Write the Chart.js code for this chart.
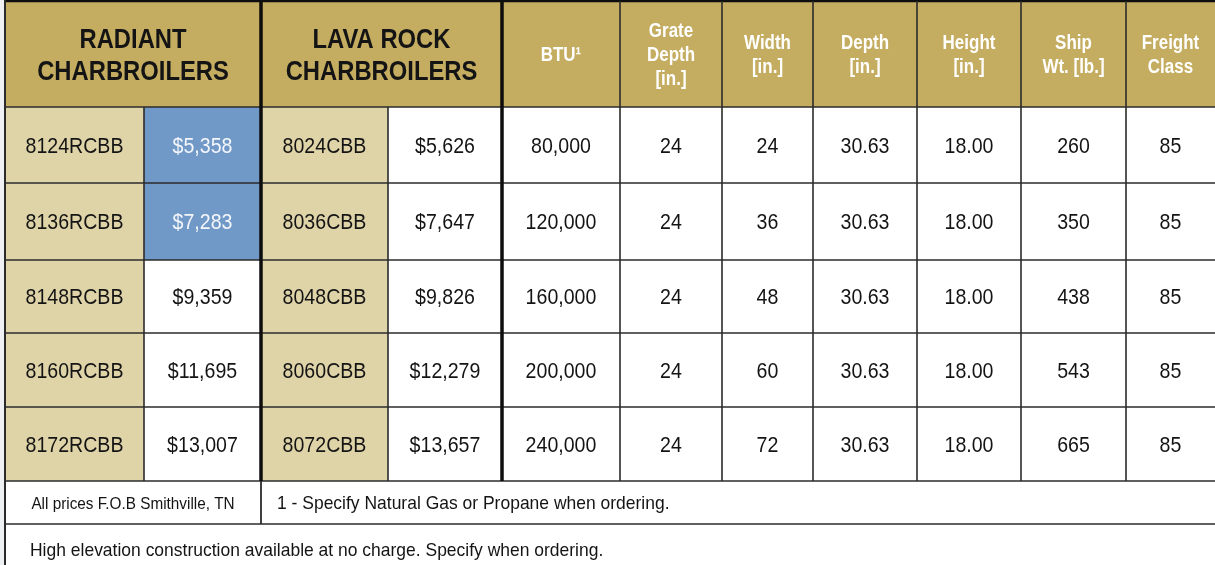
<!DOCTYPE html>
<html>
<head>
<meta charset="utf-8">
<script src="https://cdn.jsdelivr.net/npm/chart.js@4.4.1/dist/chart.umd.min.js"></script>
<style>
html, body { margin: 0; padding: 0; background: #fff; }
#wrap { width: 1215px; height: 565px; }
</style>
</head>
<body>
<div id="wrap"><canvas id="tableChart" width="1215" height="565"></canvas></div>
<script>
/**
 * 1. DATA
 */
const radiantModels = ['8124RCBB', '8136RCBB', '8148RCBB', '8160RCBB', '8172RCBB'];
const radiantPrices = [5358, 7283, 9359, 11695, 13007];
const lavaModels = ['8024CBB', '8036CBB', '8048CBB', '8060CBB', '8072CBB'];
const lavaPrices = [5626, 7647, 9826, 12279, 13657];
const btu = [80000, 120000, 160000, 200000, 240000];
const grateDepth = [24, 24, 24, 24, 24];
const widthIn = [24, 36, 48, 60, 72];
const depthIn = [30.63, 30.63, 30.63, 30.63, 30.63];
const heightIn = [18.00, 18.00, 18.00, 18.00, 18.00];
const shipWeight = [260, 350, 438, 543, 665];
const freightClass = [85, 85, 85, 85, 85];

const groupHeaders = [['RADIANT', 'CHARBROILERS'], ['LAVA ROCK', 'CHARBROILERS']];
const specHeaders = [
    ['BTU\u00B9'],
    ['Grate', 'Depth', '[in.]'],
    ['Width', '[in.]'],
    ['Depth', '[in.]'],
    ['Height', '[in.]'],
    ['Ship', 'Wt. [lb.]'],
    ['Freight', 'Class']
];
const footNoteLeft = 'All prices F.O.B Smithville, TN';
const footNoteRight = '1 - Specify Natural Gas or Propane when ordering.';
const footNoteBottom = 'High elevation construction available at no charge. Specify when ordering.';

// rows where the radiant price cell is highlighted
const highlightRows = [0, 1];

/**
 * 2. LAYOUT & STYLE (design units, mapped by the chart scales)
 */
const colEdges = [5, 144, 261, 388, 502, 620, 722, 813, 917, 1021, 1126, 1215];
// last row runs past the bottom of the frame
const rowEdges = [1, 107, 183, 260, 333, 407, 481, 524, 574];

const COLORS = {
    gold: '#c4ad60',
    tan: '#dfd3a8',
    blue: '#7099c8',
    white: '#ffffff',
    line: '#2b2b2b',
    thick: '#0d0d0d',
    text: '#141414'
};
const FONT = "'Liberation Sans', Arial, sans-serif";

// text styles: size, line height, bold, horizontal squeeze (narrow face look)
const STYLE = {
    group: { size: 28, lh: 32, bold: true, sx: 0.85 },
    spec: { size: 19.5, lh: 24, bold: true, sx: 0.87 },
    body: { size: 22, lh: 22, bold: false, sx: 0.89 },
    noteSmall: { size: 17, lh: 17, bold: false, sx: 0.9 },
    note: { size: 19, lh: 19, bold: false, sx: 0.92 }
};

const money = v => '$' + v.toLocaleString('en-US');

const bodyRows = radiantModels.map((m, i) => [
    m,
    money(radiantPrices[i]),
    lavaModels[i],
    money(lavaPrices[i]),
    btu[i].toLocaleString('en-US'),
    String(grateDepth[i]),
    String(widthIn[i]),
    depthIn[i].toFixed(2),
    heightIn[i].toFixed(2),
    String(shipWeight[i]),
    String(freightClass[i])
]);

/**
 * 3. TABLE PLUGIN
 */
const tablePlugin = {
    id: 'priceTable',
    beforeDatasetsDraw(chart) {
        const { ctx, scales: { x, y } } = chart;
        const X = v => x.getPixelForValue(v);
        const Y = v => y.getPixelForValue(v);
        const nCols = colEdges.length - 1;

        const fillCell = (c0, c1, r0, r1, color) => {
            ctx.fillStyle = color;
            ctx.fillRect(X(colEdges[c0]), Y(rowEdges[r0]), X(colEdges[c1]) - X(colEdges[c0]), Y(rowEdges[r1]) - Y(rowEdges[r0]));
        };
        const hLine = (yv, x0, x1, w, color) => {
            ctx.strokeStyle = color; ctx.lineWidth = w;
            ctx.beginPath(); ctx.moveTo(X(x0), Y(yv)); ctx.lineTo(X(x1), Y(yv)); ctx.stroke();
        };
        const vLine = (xv, y0, y1, w, color) => {
            ctx.strokeStyle = color; ctx.lineWidth = w;
            ctx.beginPath(); ctx.moveTo(X(xv), Y(y0)); ctx.lineTo(X(xv), Y(y1)); ctx.stroke();
        };
        // lines of text, caps centred on cy
        const lines = (arr, px, cy, st, color, align) => {
            ctx.font = (st.bold ? 'bold ' : '') + st.size + 'px ' + FONT;
            ctx.fillStyle = color;
            ctx.textAlign = align || 'center';
            ctx.textBaseline = 'alphabetic';
            const top = cy - (arr.length - 1) * st.lh / 2 + st.size * 0.716 / 2;
            arr.forEach((t, k) => {
                ctx.save();
                ctx.translate(px, top + k * st.lh);
                ctx.scale(st.sx, 1);
                ctx.fillText(t, 0, 0);
                ctx.restore();
            });
        };

        ctx.save();
        // left margin strip
        ctx.fillStyle = '#eef0f3';
        ctx.fillRect(X(0), Y(0), X(colEdges[0]) - X(0), Y(565) - Y(0));

        // header fill
        fillCell(0, nCols, 0, 1, COLORS.gold);

        // body fills
        bodyRows.forEach((row, i) => {
            for (let c = 0; c < nCols; c++) {
                let col = COLORS.white;
                if (c === 0 || c === 2) col = COLORS.tan;
                if (c === 1 && highlightRows.includes(i)) col = COLORS.blue;
                fillCell(c, c + 1, i + 1, i + 2, col);
            }
        });
        // footer fills
        fillCell(0, nCols, 6, 8, COLORS.white);

        // horizontal lines
        const xl = colEdges[0], xr = colEdges[nCols];
        hLine(rowEdges[0], xl, xr, 2.5, COLORS.thick);
        for (let r = 1; r <= 7; r++) hLine(rowEdges[r], xl, xr, 1.6, COLORS.line);

        // vertical lines
        vLine(colEdges[0], 0, 565, 2, COLORS.line);
        [1, 3].forEach(c => vLine(colEdges[c], rowEdges[1], rowEdges[6], 1.6, COLORS.line));
        for (let c = 5; c < nCols; c++) vLine(colEdges[c], rowEdges[0], rowEdges[6], 1.6, COLORS.line);
        [2, 4].forEach(c => vLine(colEdges[c], rowEdges[0], rowEdges[6], 3.5, COLORS.thick));
        vLine(colEdges[2], rowEdges[6], rowEdges[7], 1.8, COLORS.line);

        // header text
        const midY = (Y(rowEdges[0]) + Y(rowEdges[1])) / 2;
        groupHeaders.forEach((g, k) => {
            const cx = (X(colEdges[k * 2]) + X(colEdges[k * 2 + 2])) / 2;
            lines(g, cx, midY, STYLE.group, COLORS.text);
        });
        specHeaders.forEach((h, k) => {
            const cx = (X(colEdges[k + 4]) + X(colEdges[k + 5])) / 2;
            lines(h, cx, midY, STYLE.spec, COLORS.white);
        });

        // body text
        bodyRows.forEach((row, i) => {
            const cy = (Y(rowEdges[i + 1]) + Y(rowEdges[i + 2])) / 2;
            row.forEach((t, c) => {
                const cx = (X(colEdges[c]) + X(colEdges[c + 1])) / 2;
                const col = (c === 1 && highlightRows.includes(i)) ? '#f4f6fa' : COLORS.text;
                lines([t], cx, cy, STYLE.body, col);
            });
        });

        // footer text
        const f1 = (Y(rowEdges[6]) + Y(rowEdges[7])) / 2;
        const f2 = (Y(rowEdges[7]) + Y(rowEdges[8])) / 2;
        lines([footNoteLeft], (X(colEdges[0]) + X(colEdges[2])) / 2, f1, STYLE.noteSmall, COLORS.text);
        lines([footNoteRight], X(277), f1, STYLE.note, COLORS.text, 'left');
        lines([footNoteBottom], X(30), f2, STYLE.note, COLORS.text, 'left');
        ctx.restore();
    }
};

/**
 * 4. CHART
 */
const chartCtx = document.getElementById('tableChart').getContext('2d');
const tableChart = new Chart(chartCtx, {
    type: 'scatter',
    data: { datasets: [{ data: [] }] },
    options: {
        responsive: false,
        animation: false,
        layout: { padding: 0 },
        plugins: { legend: { display: false }, tooltip: { enabled: false } },
        scales: {
            x: { type: 'linear', min: 0, max: 1215, display: false },
            y: { type: 'linear', min: 0, max: 565, reverse: true, display: false }
        }
    },
    plugins: [tablePlugin]
});
</script>
</body>
</html>
